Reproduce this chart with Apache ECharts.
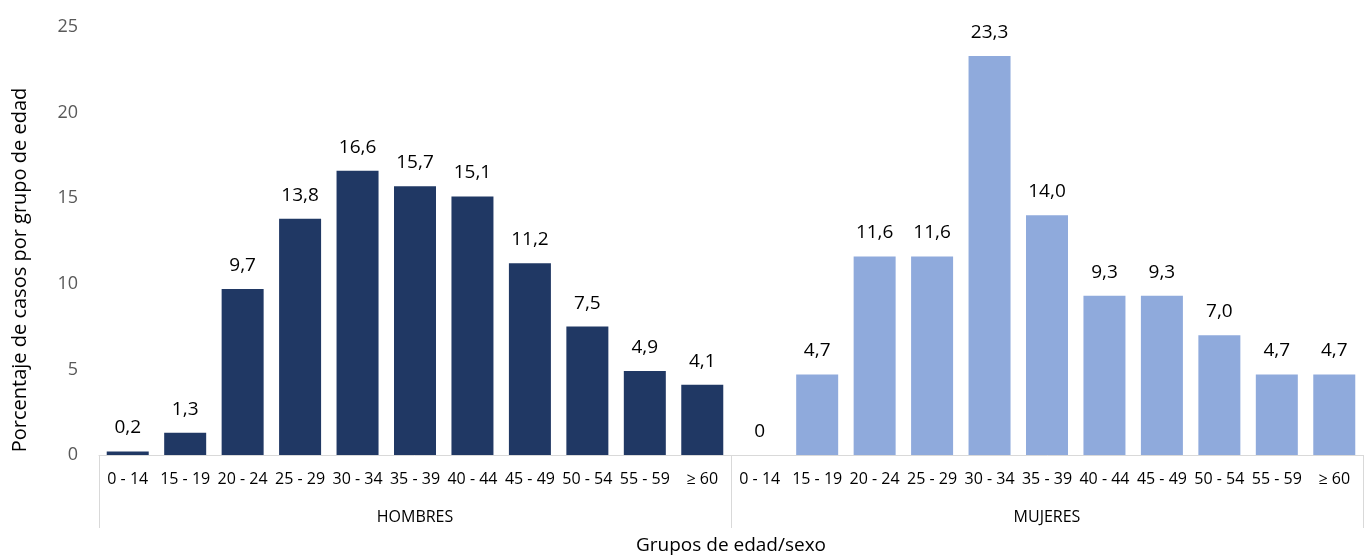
<!DOCTYPE html>
<html><head><meta charset="utf-8">
<script src="https://cdn.jsdelivr.net/npm/echarts@6/dist/echarts.min.js"></script>
<style>html,body{margin:0;padding:0;background:#fff}#c{width:1364px;height:557px}</style>
</head><body><div id="c"></div>
<script>
const ageGroups = ['0 - 14','15 - 19','20 - 24','25 - 29','30 - 34','35 - 39','40 - 44','45 - 49','50 - 54','55 - 59','≥ 60'];
const sexGroups = ['HOMBRES','MUJERES'];
const hombres = [0.2,1.3,9.7,13.8,16.6,15.7,15.1,11.2,7.5,4.9,4.1];
const mujeres = [0,4.7,11.6,11.6,23.3,14.0,9.3,9.3,7.0,4.7,4.7];
const yTicks = [0,5,10,15,20,25];

const cats = [];
sexGroups.forEach((s,i)=>ageGroups.forEach(a=>cats.push(s+'|'+a)));
const menData = hombres.concat(mujeres.map(()=>'-'));
const womenData = hombres.map(()=>'-').concat(mujeres);
const fmt = p => p.value === 0 ? '0' : p.value.toFixed(1).replace('.',',');
const font = '"Open Sans", "Noto Sans", sans-serif';

const chart = echarts.init(document.getElementById('c'));
chart.setOption({
  animation:false,
  grid:{left:99,right:1,top:27,bottom:102,outerBoundsMode:'none',containLabel:false},
  xAxis:[{
    type:'category', data:cats, position:'bottom',
    axisLine:{show:true,lineStyle:{color:'#d9d9d9',width:1}},
    axisTick:{show:false},
    axisLabel:{interval:0,margin:16,fontSize:16,color:'#000',fontFamily:font,formatter:v=>v.split('|')[1]}
  },{
    type:'category', data:sexGroups, position:'bottom',
    axisLine:{show:false},
    axisTick:{show:true,length:73,lineStyle:{color:'#d9d9d9',width:1}},
    axisLabel:{margin:54,fontSize:16,color:'#000',fontFamily:font},
    name:'Grupos de edad/sexo', nameLocation:'middle', nameGap:81,
    nameTextStyle:{fontSize:19,color:'#000',fontFamily:font}
  }],
  yAxis:{
    type:'value', min:0, max:25, interval:5,
    splitLine:{show:false}, axisLine:{show:false}, axisTick:{show:false},
    axisLabel:{margin:21,fontSize:18,color:'#595959',fontFamily:font,
      customValues:yTicks}
  },
  graphic:[{
    type:'text', x:20, y:270, rotation:Math.PI/2,
    style:{text:'Porcentaje de casos por grupo de edad', fontSize:20, fill:'#000',
      fontFamily:font, align:'center', verticalAlign:'middle'}
  }],
  series:[{
    type:'bar', data:menData, xAxisIndex:0, barWidth:42, barGap:'-100%',
    itemStyle:{color:'#203864'},
    label:{show:true,position:'top',distance:14,fontSize:19,color:'#000',fontFamily:font,formatter:fmt}
  },{
    type:'bar', data:womenData, xAxisIndex:0, barWidth:42, barGap:'-100%',
    itemStyle:{color:'#8faadc'},
    label:{show:true,position:'top',distance:14,fontSize:19,color:'#000',fontFamily:font,formatter:fmt}
  }]
});
</script></body></html>
